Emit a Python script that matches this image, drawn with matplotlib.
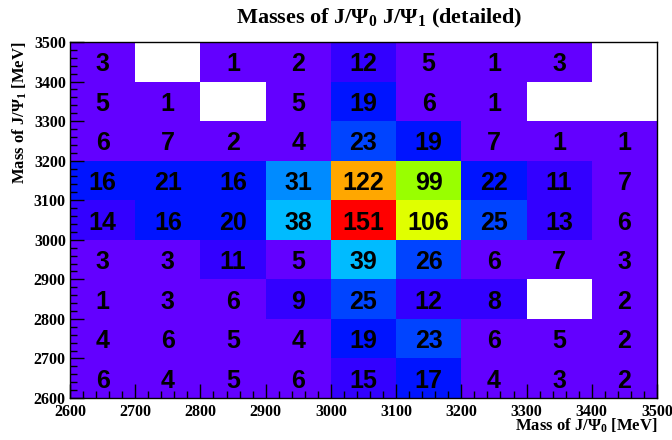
import colorsys
import numpy as np
import matplotlib
matplotlib.use("Agg")
from matplotlib import pyplot as plt
from matplotlib.colors import ListedColormap, BoundaryNorm
from matplotlib.ticker import MultipleLocator


# bin edges in MeV
X_EDGES = [2600, 2700, 2800, 2900, 3000, 3100, 3200, 3300, 3400, 3500]
Y_EDGES = [2600, 2700, 2800, 2900, 3000, 3100, 3200, 3300, 3400, 3500]

# counts, rows listed from top (3400-3500) to bottom (2600-2700)
ROW_3400 = [3, 0, 1, 2, 12, 5, 1, 3, 0]
ROW_3300 = [5, 1, 0, 5, 19, 6, 1, 0, 0]
ROW_3200 = [6, 7, 2, 4, 23, 19, 7, 1, 1]
ROW_3100 = [16, 21, 16, 31, 122, 99, 22, 11, 7]
ROW_3000 = [14, 16, 20, 38, 151, 106, 25, 13, 6]
ROW_2900 = [3, 3, 11, 5, 39, 26, 6, 7, 3]
ROW_2800 = [1, 3, 6, 9, 25, 12, 8, 0, 2]
ROW_2700 = [4, 6, 5, 4, 19, 23, 6, 5, 2]
ROW_2600 = [6, 4, 5, 6, 15, 17, 4, 3, 2]

TITLE = r"Masses of J/$\Psi_0$ J/$\Psi_1$ (detailed)"
XLABEL = r"Mass of J/$\Psi_0$ [MeV]"
YLABEL = r"Mass of J/$\Psi_1$ [MeV]"

N_CONTOURS = 20

plt.rcParams["mathtext.fontset"] = "custom"
plt.rcParams["mathtext.rm"] = "Liberation Serif:bold"
plt.rcParams["mathtext.it"] = "Liberation Serif:bold"
plt.rcParams["mathtext.bf"] = "Liberation Serif:bold"


def pretty_palette(n=50):
    # old ROOT default rainbow palette
    cols = []
    for i in range(n):
        hue = 280 - (i + 1) * 280 / n
        cols.append(colorsys.hls_to_rgb(hue / 360, 0.5, 1.0))
    return cols


def main():
    counts = np.array([ROW_2600, ROW_2700, ROW_2800, ROW_2900, ROW_3000,
                       ROW_3100, ROW_3200, ROW_3300, ROW_3400], dtype=float)
    zmax = counts.max()

    pal = pretty_palette()
    cmap = ListedColormap([pal[int((lev + 0.99) * len(pal) / N_CONTOURS)]
                           for lev in range(N_CONTOURS)])
    cmap.set_bad("white")
    norm = BoundaryNorm(np.linspace(0, zmax, N_CONTOURS + 1), N_CONTOURS, clip=True)

    fig = plt.figure(figsize=(6.72, 4.4), dpi=100)
    ax = fig.add_axes([70 / 672, 1 - 398 / 440, 587 / 672, 356 / 440])

    masked = np.ma.masked_where(counts == 0, counts)
    ax.pcolormesh(X_EDGES, Y_EDGES, masked, cmap=cmap, norm=norm)

    xc = 0.5 * (np.array(X_EDGES[:-1]) + np.array(X_EDGES[1:]))
    yc = 0.5 * (np.array(Y_EDGES[:-1]) + np.array(Y_EDGES[1:]))
    for j, y in enumerate(yc):
        for i, x in enumerate(xc):
            v = counts[j, i]
            if v > 0:
                ax.text(x, y, f"{int(v)}", ha="center", va="center_baseline",
                        fontsize=18, fontweight="bold", family="Liberation Sans")

    ax.set_xlim(X_EDGES[0], X_EDGES[-1])
    ax.set_ylim(Y_EDGES[0], Y_EDGES[-1])
    ax.xaxis.set_major_locator(MultipleLocator(100))
    ax.yaxis.set_major_locator(MultipleLocator(100))
    ax.xaxis.set_minor_locator(MultipleLocator(20))
    ax.yaxis.set_minor_locator(MultipleLocator(20))
    ax.tick_params(which="both", direction="in", top=False, right=False, width=1)
    ax.tick_params(which="major", length=10)
    ax.tick_params(which="minor", length=5)
    ax.tick_params(axis="x", which="major", pad=4)
    ax.tick_params(axis="y", which="major", pad=3)
    for lab in ax.get_xticklabels() + ax.get_yticklabels():
        lab.set_family("Liberation Serif")
        lab.set_fontweight("bold")
        lab.set_fontsize(11.5)
    for s in ax.spines.values():
        s.set_linewidth(1)

    fig.text(657 / 672, 1 - 426 / 440, XLABEL, ha="right", va="center",
             fontsize=12, family="Liberation Serif", fontweight="bold")
    fig.text(20 / 672, 1 - 42 / 440, YLABEL, ha="center", va="top", rotation=90,
             fontsize=12, family="Liberation Serif", fontweight="bold")
    fig.text(379 / 672, 1 - 18 / 440, TITLE, ha="center", va="center",
             fontsize=16, family="Liberation Serif", fontweight="bold")

    fig.savefig("out.png", dpi=100)
    plt.close(fig)


if __name__ == '__main__':
    main()
